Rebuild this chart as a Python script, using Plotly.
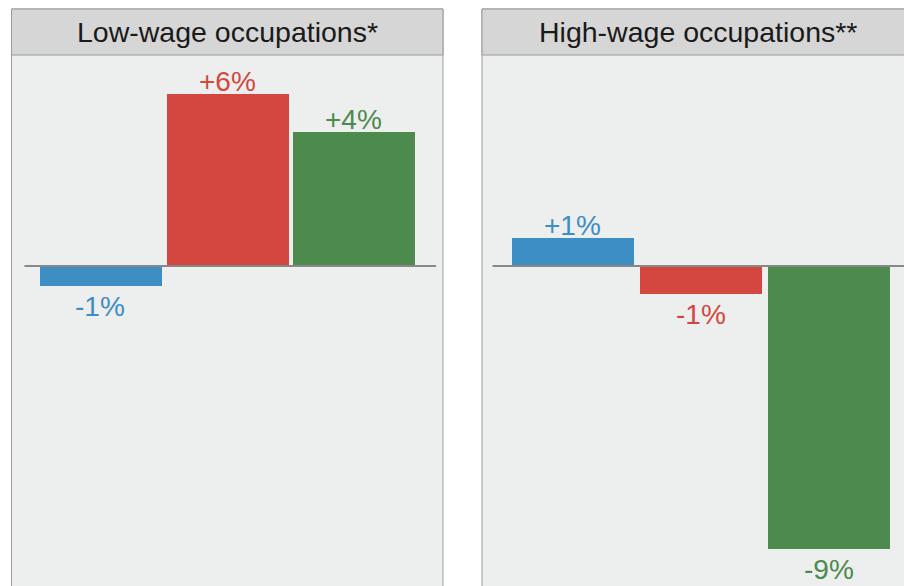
import plotly.graph_objects as go

# ---- data -------------------------------------------------------------
panels = ["Low-wage occupations*", "High-wage occupations**"]
groups = ["Group 1", "Group 2", "Group 3"]
low_wage_change = [-0.64, 5.55, 4.32]     # percent change
high_wage_change = [0.90, -0.89, -9.12]   # percent change
bar_colors = ["#3D8EC2", "#D44740", "#4C8A4E"]

# ---- layout helpers ---------------------------------------------------
W, H = 904, 586
FONT = "Liberation Sans, Arial, Helvetica, sans-serif"
PANEL_BG = "#EDEFEE"
STRIP_BG = "#D6D6D6"
BORDER = "#9A9A9A"


def px(x):
    return x / W


def py(y):
    return 1 - y / H


# pixel geometry of the two facets
facets = [
    dict(left=11.5, right=443, xr=[-0.702, 2.705], width=0.964, zl=(0.030, 0.984)),
    dict(left=482, right=913, xr=[-0.709, 2.5875], width=0.953, zl=(0.025, 1.0)),
]
strip_top, strip_bot = 9, 55
y_range = [-10.32, 6.806]

fig = go.Figure()
series = [low_wage_change, high_wage_change]

for i, (vals, f) in enumerate(zip(series, facets)):
    sfx = "" if i == 0 else str(i + 1)
    fig.add_trace(go.Bar(
        x=groups, y=vals, width=f["width"],
        marker=dict(color=bar_colors, line=dict(width=0)),
        xaxis="x" + sfx, yaxis="y" + sfx,
        showlegend=False, hoverinfo="skip",
    ))
    # value labels
    for g, v, c in zip(groups, vals, bar_colors):
        pos = v >= 0
        fig.add_annotation(
            x=g, y=v, xref="x" + sfx, yref="y" + sfx,
            text=f"{v:+.0f}%", showarrow=False,
            yanchor="bottom" if pos else "top",
            yshift=-5 if pos else -3,
            font=dict(family=FONT, size=28, color=c),
        )
    # zero reference line
    fig.add_shape(type="line", xref=f"x{sfx} domain", yref="y" + sfx,
                  x0=f["zl"][0], x1=f["zl"][1], y0=0, y1=0,
                  line=dict(color="#888888", width=2))
    # panel frame
    fig.add_shape(type="rect", xref="paper", yref="paper",
                  x0=px(f["left"]), x1=px(f["right"]),
                  y0=py(H + 20), y1=py(strip_top),
                  line=dict(color=BORDER, width=1), fillcolor="rgba(0,0,0,0)")
    # strip header
    fig.add_shape(type="rect", xref="paper", yref="paper",
                  x0=px(f["left"]), x1=px(f["right"]),
                  y0=py(strip_bot), y1=py(strip_top),
                  line=dict(color=BORDER, width=1), fillcolor=STRIP_BG)
    fig.add_annotation(
        x=px((f["left"] + f["right"]) / 2), y=py((strip_top + strip_bot) / 2),
        xref="paper", yref="paper", text=panels[i], showarrow=False,
        xanchor="center", yanchor="middle",
        font=dict(family=FONT, size=28.5, color="#1A1A1A"),
    )

axis_common = dict(showgrid=False, zeroline=False, showticklabels=False,
                   ticks="", showline=False, fixedrange=True)

fig.update_layout(
    width=W, height=H,
    margin=dict(l=0, r=0, t=0, b=0),
    paper_bgcolor="white", plot_bgcolor=PANEL_BG,
    bargap=0,
    xaxis=dict(domain=[px(facets[0]["left"]), px(facets[0]["right"])],
               range=facets[0]["xr"], type="category", **axis_common),
    yaxis=dict(domain=[0, py(strip_bot)], range=y_range, **axis_common),
    xaxis2=dict(domain=[px(facets[1]["left"]), 1.0],
                range=facets[1]["xr"], type="category", anchor="y2", **axis_common),
    yaxis2=dict(domain=[0, py(strip_bot)], range=y_range, anchor="x2", **axis_common),
)

fig.write_html("out.html")
